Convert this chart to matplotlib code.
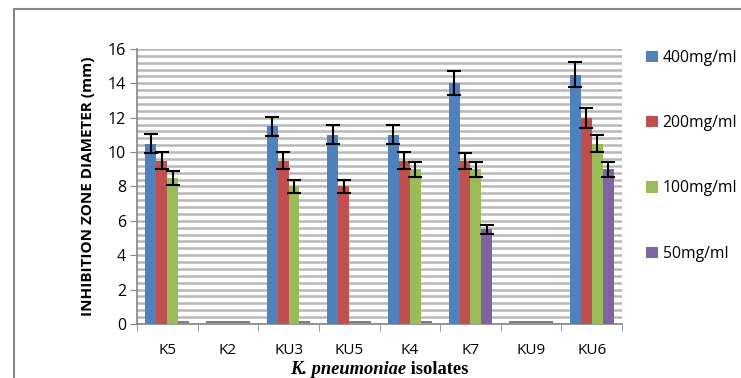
import numpy as np
import matplotlib.pyplot as plt
from matplotlib.ticker import MultipleLocator
from matplotlib.patches import Rectangle
from matplotlib.transforms import offset_copy

isolates = ["K5", "K2", "KU3", "KU5", "K4", "K7", "KU9", "KU6"]
doses = ["400mg/ml", "200mg/ml", "100mg/ml", "50mg/ml"]

v400 = [10.5, 0, 11.5, 11, 11, 14, 0, 14.5]
v200 = [9.5, 0, 9.5, 8, 9.5, 9.5, 0, 12]
v100 = [8.5, 0, 8, 0, 9, 9, 0, 10.5]
v50 = [0, 0, 0, 0, 0, 5.5, 0, 9]

e400 = [0.55, 0, 0.56, 0.55, 0.55, 0.7, 0, 0.73]
e200 = [0.5, 0, 0.5, 0.4, 0.5, 0.47, 0, 0.58]
e100 = [0.42, 0, 0.4, 0, 0.45, 0.45, 0, 0.5]
e50 = [0, 0, 0, 0, 0, 0.28, 0, 0.45]

colors = ["#4F81BD", "#C0504D", "#9BBB59", "#8064A2"]
font = "Open Sans"

fig = plt.figure(figsize=(7.41, 3.78), dpi=100)
ax = fig.add_axes([0.1849, 0.1429, 0.6545, 0.7275])

x = np.arange(len(isolates))
w = 0.18
lifted = offset_copy(ax.transData, fig=fig, x=0, y=2, units="dots")
series = [(v400, e400), (v200, e200), (v100, e100), (v50, e50)]
for i, (vals, errs) in enumerate(series):
    pos = x + (i - 1.5) * w
    vals = np.array(vals)
    errs = np.array(errs)
    ax.bar(pos, vals, w, color=colors[i], label=doses[i], zorder=3)
    zero = vals == 0
    # zero values show as a thin grey line just above the axis
    ax.hlines(vals[zero], pos[zero] - w / 2, pos[zero] + w / 2, colors="#7F7F7F",
              linewidth=1.5, transform=lifted, zorder=3)
    nz = errs > 0
    ax.errorbar(pos[nz], vals[nz], yerr=errs[nz], fmt="none", ecolor="black",
                elinewidth=1.5, capsize=5, capthick=1.5, zorder=4)

ax.set_xlim(-0.5, len(isolates) - 0.5)
ax.set_ylim(0, 16)
ax.yaxis.set_major_locator(MultipleLocator(2))
ax.yaxis.set_minor_locator(MultipleLocator(0.4))
ax.grid(axis="y", which="both", color="#B8B8B8", linewidth=1.8, zorder=0)
ax.set_axisbelow(True)

ax.set_xticks(x)
ax.set_xticklabels(isolates, fontsize=11, family=font)
ax.set_xticks(np.arange(len(isolates) + 1) - 0.5, minor=True)
ax.tick_params(axis="x", which="major", length=0, pad=14)
ax.tick_params(axis="x", which="minor", length=5, color="#868686", direction="out")
ax.tick_params(axis="y", which="major", length=5, color="#868686", labelsize=11.5, pad=3)
ax.tick_params(axis="y", which="minor", length=0)
for lab in ax.get_yticklabels():
    lab.set_family(font)

for s in ["top", "right"]:
    ax.spines[s].set_visible(False)
for s in ["left", "bottom"]:
    ax.spines[s].set_color("#868686")
    ax.spines[s].set_linewidth(1.2)

ax.set_ylabel("INHIBITION ZONE DIAMETER (mm)", fontsize=11, fontweight="bold",
              family=font, labelpad=9)

# x label: italic species name followed by upright "isolates"
sp = fig.text(0.391, 0.01, "K. pneumoniae", ha="left", va="baseline", fontsize=13.3,
              family="Liberation Serif", fontweight="bold", style="italic")
ax.annotate(" isolates", xy=(1, 0), xycoords=sp, va="bottom", ha="left", fontsize=13.3,
            family="Liberation Serif", fontweight="bold", annotation_clip=False)

fig.legend(loc="upper left", bbox_to_anchor=(0.872, 0.868), frameon=False,
           prop={"family": font, "size": 11.3}, handlelength=0.75, handleheight=0.75,
           handletextpad=0.3, labelspacing=3.14, borderpad=0, borderaxespad=0)

fig.patches.append(Rectangle((14 / 741, -0.2), 2, 1.2 - 9 / 378, transform=fig.transFigure,
                             fill=False, edgecolor="#868686", linewidth=1.5))

fig.savefig("out.png", dpi=100)
